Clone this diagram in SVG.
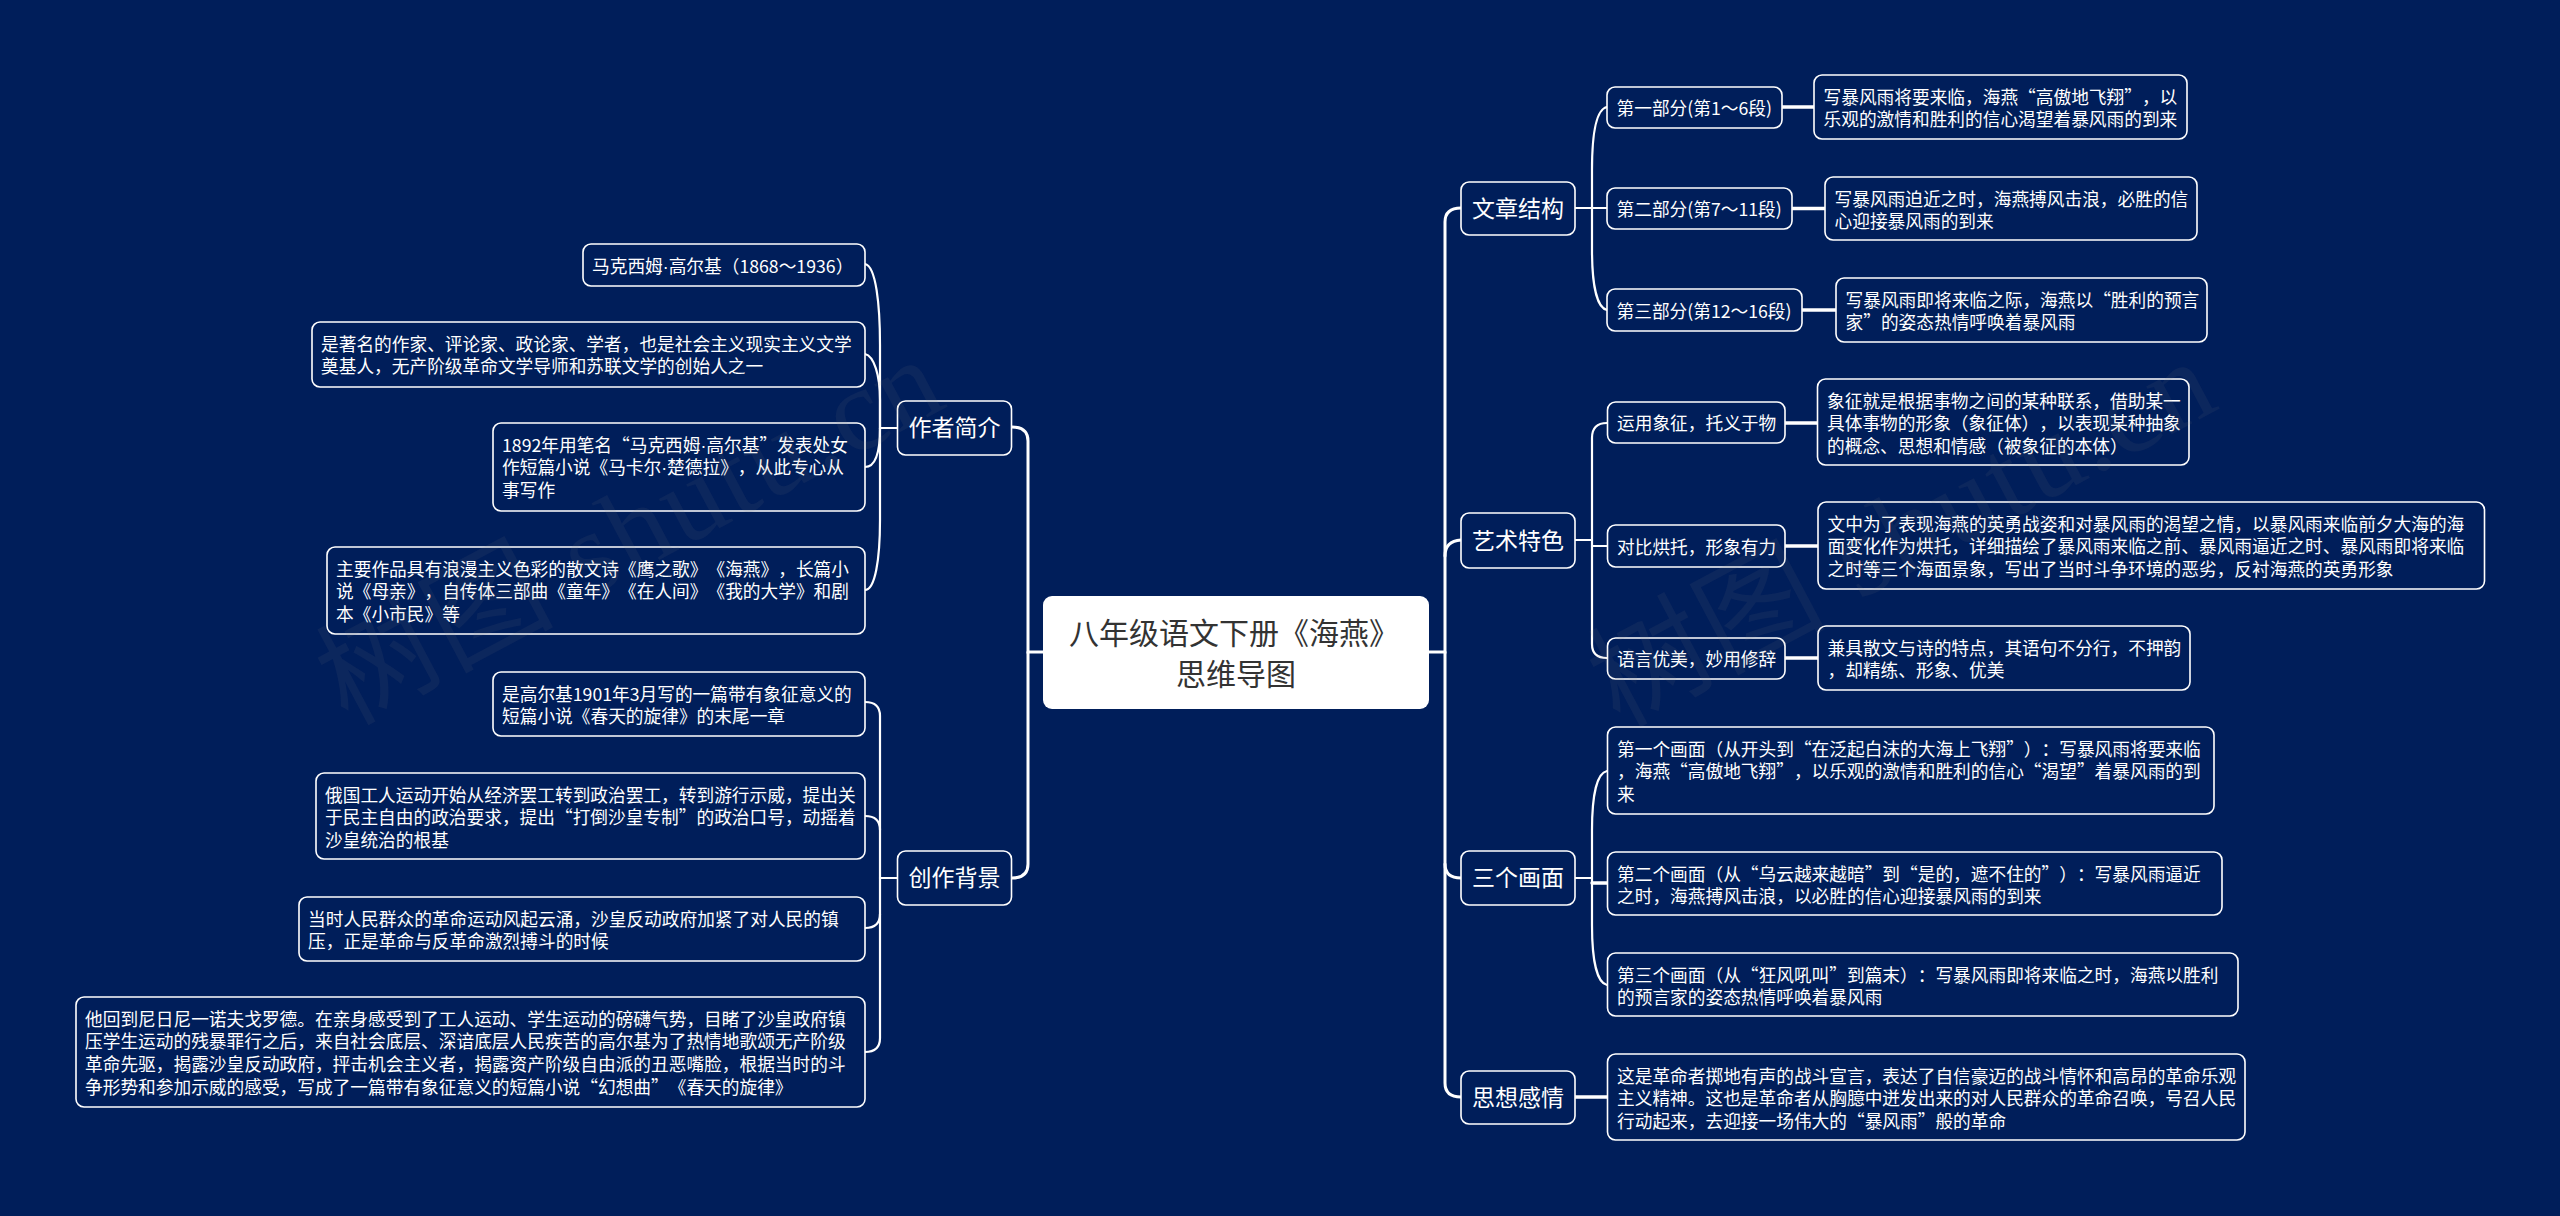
<svg xmlns="http://www.w3.org/2000/svg" width="2560" height="1216" viewBox="0 0 2560 1216">
<style>
text{font-family:"Noto Sans CJK SC","Noto Sans",sans-serif;fill:#fff;text-spacing-trim:space-all;font-feature-settings:"chws" 0}
.b{font-size:17.7px;transform:translateY(1px)}
.m{font-size:23px;text-anchor:middle}
.r{font-size:30px;text-anchor:middle;fill:#333}
.d{font-family:"Liberation Sans",sans-serif}
.n{fill:#001e5a;stroke:#fff;stroke-width:1.6}
.c{fill:none;stroke:#fff;stroke-linecap:round}
.c1{stroke-width:3}
.c2{stroke-width:2.2}
.c3{stroke-width:3.4}
.w{font-family:"Liberation Serif","Noto Sans CJK SC",serif;font-size:118px;fill:#808080;fill-opacity:.09;letter-spacing:2px}
</style>
<rect width="2560" height="1216" fill="#001e5a"/>
<g id="connectors">
<path class="c c1" d="M1043,652H1028V441Q1028,427 1012,427"/>
<path class="c c1" d="M1028,652V864Q1028,878 1012,878"/>
<path class="c c1" d="M1429,652H1445V222Q1445,208 1461,208"/>
<path class="c c1" d="M1445,556Q1445,541 1461,540"/>
<path class="c c1" d="M1445,864Q1445,878 1461,878"/>
<path class="c c1" d="M1445,652V1083Q1445,1097 1461,1097"/>
<path class="c c2" d="M865,264C876,266 880,305 880,345V428H897"/>
<path class="c c2" d="M865,354C874,356 880,375 880,400V428"/>
<path class="c c2" d="M865,467C875,467 880,455 880,428"/>
<path class="c c2" d="M865,590C875,590 880,560 880,520V428"/>
<path class="c c2" d="M865,702Q880,702 880,716V1038Q880,1052 865,1052"/>
<path class="c c2" d="M865,816Q880,816 880,830"/>
<path class="c c2" d="M865,928Q880,928 880,914"/>
<path class="c c2" d="M880,878H897"/>
<path class="c c2" d="M1575,208H1607"/>
<path class="c c2" d="M1607,107C1597,109 1592,130 1592,170V250C1592,285 1597,308 1607,310"/>
<path class="c c3" d="M1782,107H1814"/>
<path class="c c3" d="M1792,208.500H1825"/>
<path class="c c3" d="M1802,310H1836"/>
<path class="c c2" d="M1607,423Q1592,423 1592,438V644Q1592,658 1607,658"/>
<path class="c c2" d="M1575,540H1592"/>
<path class="c c2" d="M1592,546H1607"/>
<path class="c c3" d="M1785,423H1817"/>
<path class="c c3" d="M1785,546H1818"/>
<path class="c c3" d="M1785,658H1818"/>
<path class="c c2" d="M1607,771C1597,773 1592,795 1592,830V925C1592,960 1597,983 1607,985"/>
<path class="c c2" d="M1575,878H1592"/>
<path class="c c3" d="M1592,883H1607"/>
<path class="c c3" d="M1575,1097H1607"/>
</g>
<g id="root"><rect x="1043" y="596" width="386" height="113" rx="9" fill="#fff"/>
<text class="r" x="1234" y="644">八年级语文下册《海燕》</text><text class="r" x="1236" y="685">思维导图</text></g>

<g id="author"><rect class="n" x="897.500" y="401" width="114" height="54" rx="8"/><text class="m" x="954.500" y="436">作者简介</text></g>
<g id="a1"><rect class="n" x="583" y="244" width="282" height="42" rx="8"/><text class="b" x="592" y="271.500">马克西姆<tspan class="d">·</tspan>高尔基（1868～1936）</text></g>
<g id="a2"><rect class="n" x="312" y="322" width="553" height="65" rx="8"/><text class="b" x="321" y="349.500">是著名的作家、评论家、政论家、学者，也是社会主义现实主义文学</text><text class="b" x="321" y="372.200">奠基人，无产阶级革命文学导师和苏联文学的创始人之一</text></g>
<g id="a3"><rect class="n" x="493" y="423" width="372" height="88" rx="8"/><text class="b" x="502" y="450.500">1892年用笔名“马克西姆<tspan class="d">·</tspan>高尔基”发表处女</text><text class="b" x="502" y="473.200">作短篇小说《马卡尔<tspan class="d">·</tspan>楚德拉》，从此专心从</text><text class="b" x="502" y="495.900">事写作</text></g>
<g id="a4"><rect class="n" x="327" y="547" width="538" height="87" rx="8"/><text class="b" x="336" y="574.500">主要作品具有浪漫主义色彩的散文诗《鹰之歌》《海燕》，长篇小</text><text class="b" x="336" y="597.200">说《母亲》，自传体三部曲《童年》《在人间》《我的大学》和剧</text><text class="b" x="336" y="619.900">本《小市民》等</text></g>

<g id="background"><rect class="n" x="897.500" y="851" width="114" height="54" rx="8"/><text class="m" x="954.500" y="886">创作背景</text></g>
<g id="b1"><rect class="n" x="493" y="672" width="372" height="64" rx="8"/><text class="b" x="502" y="699.500">是高尔基1901年3月写的一篇带有象征意义的</text><text class="b" x="502" y="722.200">短篇小说《春天的旋律》的末尾一章</text></g>
<g id="b2"><rect class="n" x="316" y="773" width="549" height="86" rx="8"/><text class="b" x="325" y="800.500">俄国工人运动开始从经济罢工转到政治罢工，转到游行示威，提出关</text><text class="b" x="325" y="823.200">于民主自由的政治要求，提出“打倒沙皇专制”的政治口号，动摇着</text><text class="b" x="325" y="845.900">沙皇统治的根基</text></g>
<g id="b3"><rect class="n" x="299" y="897" width="566" height="64" rx="8"/><text class="b" x="308" y="924.500">当时人民群众的革命运动风起云涌，沙皇反动政府加紧了对人民的镇</text><text class="b" x="308" y="947.200">压，正是革命与反革命激烈搏斗的时候</text></g>
<g id="b4"><rect class="n" x="76" y="997" width="789" height="110" rx="8"/><text class="b" x="85" y="1024.500">他回到尼日尼一诺夫戈罗德。在亲身感受到了工人运动、学生运动的磅礴气势，目睹了沙皇政府镇</text><text class="b" x="85" y="1047.200">压学生运动的残暴罪行之后，来自社会底层、深谙底层人民疾苦的高尔基为了热情地歌颂无产阶级</text><text class="b" x="85" y="1069.900">革命先驱，揭露沙皇反动政府，抨击机会主义者，揭露资产阶级自由派的丑恶嘴脸，根据当时的斗</text><text class="b" x="85" y="1092.600">争形势和参加示威的感受，写成了一篇带有象征意义的短篇小说“幻想曲”《春天的旋律》</text></g>

<g id="structure"><rect class="n" x="1461" y="182" width="114" height="53" rx="8"/><text class="m" x="1518" y="216.500">文章结构</text></g>
<g id="s1"><rect class="n" x="1607" y="87" width="175" height="41" rx="8"/><text class="b" x="1616.500" y="114">第一部分(第1～6段)</text></g>
<g id="s1d"><rect class="n" x="1814" y="75" width="373" height="64" rx="8"/><text class="b" x="1823.500" y="102.500">写暴风雨将要来临，海燕“高傲地飞翔”，以</text><text class="b" x="1823.500" y="125.200">乐观的激情和胜利的信心渴望着暴风雨的到来</text></g>
<g id="s2"><rect class="n" x="1607" y="188" width="185" height="41" rx="8"/><text class="b" x="1616.500" y="215">第二部分(第7～11段)</text></g>
<g id="s2d"><rect class="n" x="1825" y="177" width="372" height="63" rx="8"/><text class="b" x="1834.500" y="204.500">写暴风雨迫近之时，海燕搏风击浪，必胜的信</text><text class="b" x="1834.500" y="227.200">心迎接暴风雨的到来</text></g>
<g id="s3"><rect class="n" x="1607" y="289" width="195" height="42" rx="8"/><text class="b" x="1616.500" y="316.500">第三部分(第12～16段)</text></g>
<g id="s3d"><rect class="n" x="1836" y="278" width="371" height="64" rx="8"/><text class="b" x="1845.500" y="305.500">写暴风雨即将来临之际，海燕以“胜利的预言</text><text class="b" x="1845.500" y="328.200">家”的姿态热情呼唤着暴风雨</text></g>

<g id="art"><rect class="n" x="1461" y="513" width="114" height="55" rx="8"/><text class="m" x="1518" y="548.500">艺术特色</text></g>
<g id="r1"><rect class="n" x="1607.500" y="402" width="177.500" height="41" rx="8"/><text class="b" x="1617" y="429">运用象征，托义于物</text></g>
<g id="r1d"><rect class="n" x="1817.500" y="379" width="371.500" height="86" rx="8"/><text class="b" x="1827" y="406.500">象征就是根据事物之间的某种联系，借助某一</text><text class="b" x="1827" y="429.200">具体事物的形象（象征体），以表现某种抽象</text><text class="b" x="1827" y="451.900">的概念、思想和情感（被象征的本体）</text></g>
<g id="r2"><rect class="n" x="1607.500" y="525" width="177.500" height="42" rx="8"/><text class="b" x="1617" y="552.500">对比烘托，形象有力</text></g>
<g id="r2d"><rect class="n" x="1818" y="502" width="666.500" height="87" rx="8"/><text class="b" x="1827.500" y="529.500">文中为了表现海燕的英勇战姿和对暴风雨的渴望之情，以暴风雨来临前夕大海的海</text><text class="b" x="1827.500" y="552.200">面变化作为烘托，详细描绘了暴风雨来临之前、暴风雨逼近之时、暴风雨即将来临</text><text class="b" x="1827.500" y="574.900">之时等三个海面景象，写出了当时斗争环境的恶劣，反衬海燕的英勇形象</text></g>
<g id="r3"><rect class="n" x="1607.500" y="638" width="177.500" height="41" rx="8"/><text class="b" x="1617" y="665">语言优美，妙用修辞</text></g>
<g id="r3d"><rect class="n" x="1818" y="626" width="372" height="64" rx="8"/><text class="b" x="1827.500" y="653.500">兼具散文与诗的特点，其语句不分行，不押韵</text><text class="b" x="1827.500" y="676.200">，却精练、形象、优美</text></g>

<g id="scenes"><rect class="n" x="1461" y="851" width="114" height="54" rx="8"/><text class="m" x="1518" y="886">三个画面</text></g>
<g id="t1"><rect class="n" x="1607.500" y="727" width="606.500" height="87" rx="8"/><text class="b" x="1617" y="754.500">第一个画面（从开头到“在泛起白沫的大海上飞翔”）：写暴风雨将要来临</text><text class="b" x="1617" y="777.200">，海燕“高傲地飞翔”，以乐观的激情和胜利的信心“渴望”着暴风雨的到</text><text class="b" x="1617" y="799.900">来</text></g>
<g id="t2"><rect class="n" x="1607.500" y="852" width="614.500" height="63" rx="8"/><text class="b" x="1617" y="879.500">第二个画面（从“乌云越来越暗”到“是的，遮不住的”）：写暴风雨逼近</text><text class="b" x="1617" y="902.200">之时，海燕搏风击浪，以必胜的信心迎接暴风雨的到来</text></g>
<g id="t3"><rect class="n" x="1607.500" y="953" width="630.500" height="63" rx="8"/><text class="b" x="1617" y="980.500">第三个画面（从“狂风吼叫”到篇末）：写暴风雨即将来临之时，海燕以胜利</text><text class="b" x="1617" y="1003.200">的预言家的姿态热情呼唤着暴风雨</text></g>

<g id="feeling"><rect class="n" x="1461" y="1071" width="114" height="53" rx="8"/><text class="m" x="1518" y="1105.500">思想感情</text></g>
<g id="f1"><rect class="n" x="1607.500" y="1054" width="637.500" height="86" rx="8"/><text class="b" x="1617" y="1081.500">这是革命者掷地有声的战斗宣言，表达了自信豪迈的战斗情怀和高昂的革命乐观</text><text class="b" x="1617" y="1104.200">主义精神。这也是革命者从胸臆中迸发出来的对人民群众的革命召唤，号召人民</text><text class="b" x="1617" y="1126.900">行动起来，去迎接一场伟大的“暴风雨”般的革命</text></g>

<g id="watermarks">
<text class="w" transform="translate(347,726) rotate(-28)">树图 shutu.cn</text>
<text class="w" transform="translate(1619,728) rotate(-28)">树图 shutu.cn</text>
</g>
</svg>
